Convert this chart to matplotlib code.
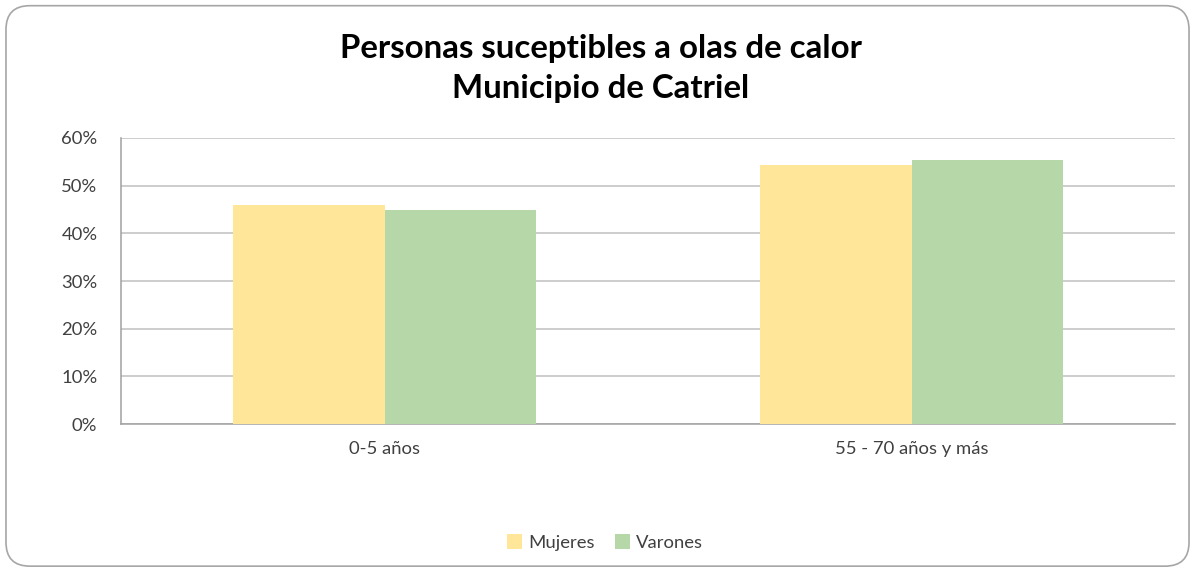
import matplotlib
matplotlib.use("Agg")
import matplotlib.pyplot as plt
from matplotlib.patches import FancyBboxPatch
from matplotlib.ticker import PercentFormatter
import numpy as np

categories = ["0-5 años", "55 - 70 años y más"]
mujeres = [45.9, 54.3]
varones = [44.9, 55.4]
series_names = ["Mujeres", "Varones"]
title = "Personas suceptibles a olas de calor\nMunicipio de Catriel"

plt.rcParams['font.family'] = ['Lato', 'DejaVu Sans']

fig = plt.figure(figsize=(11.95, 5.69), dpi=100)
border = FancyBboxPatch((0.005, 0.005), 0.99, 0.985,
                        boxstyle="round,pad=0,rounding_size=0.02",
                        transform=fig.transFigure, facecolor="white",
                        edgecolor="#a6a6a6", linewidth=1.2, mutation_aspect=2.1,
                        zorder=-5)
fig.patches.append(border)

ax = fig.add_axes([0.1013, 0.2548, 0.882, 0.5027])
x = np.arange(len(categories))
w = 0.287
ax.bar(x - w/2, mujeres, w, color="#FFE699", label=series_names[0], zorder=3)
ax.bar(x + w/2, varones, w, color="#B6D7A8", label=series_names[1], zorder=3)

ax.set_xlim(-0.5, 1.5)
ax.set_ylim(0, 60)
ax.set_yticks(np.arange(0, 61, 10))
ax.yaxis.set_major_formatter(PercentFormatter(decimals=0))
ax.set_xticks(x)
ax.set_xticklabels(categories)
ax.tick_params(axis='both', length=0, labelsize=13.3, colors="#404040")
ax.tick_params(axis='y', pad=17)
ax.tick_params(axis='x', pad=12)
ax.grid(axis='y', color="#c0c0c0", linewidth=1.1, zorder=0)
for s in ["top", "right"]:
    ax.spines[s].set_visible(False)
for s in ["left", "bottom"]:
    ax.spines[s].set_color("#a0a0a0")
    ax.spines[s].set_linewidth(1.1)
ax.patch.set_alpha(0)

fig.text(0.503, 0.879, title, ha="center", va="center", fontsize=23.8,
         fontweight="bold", linespacing=1.45)

fig.legend(loc="center", bbox_to_anchor=(0.506, 0.047), ncol=2, frameon=False,
           fontsize=13.3, handlelength=0.85, handleheight=0.85, handletextpad=0.3,
           columnspacing=1.1, labelcolor="#404040")

fig.savefig("out.png", dpi=100)
